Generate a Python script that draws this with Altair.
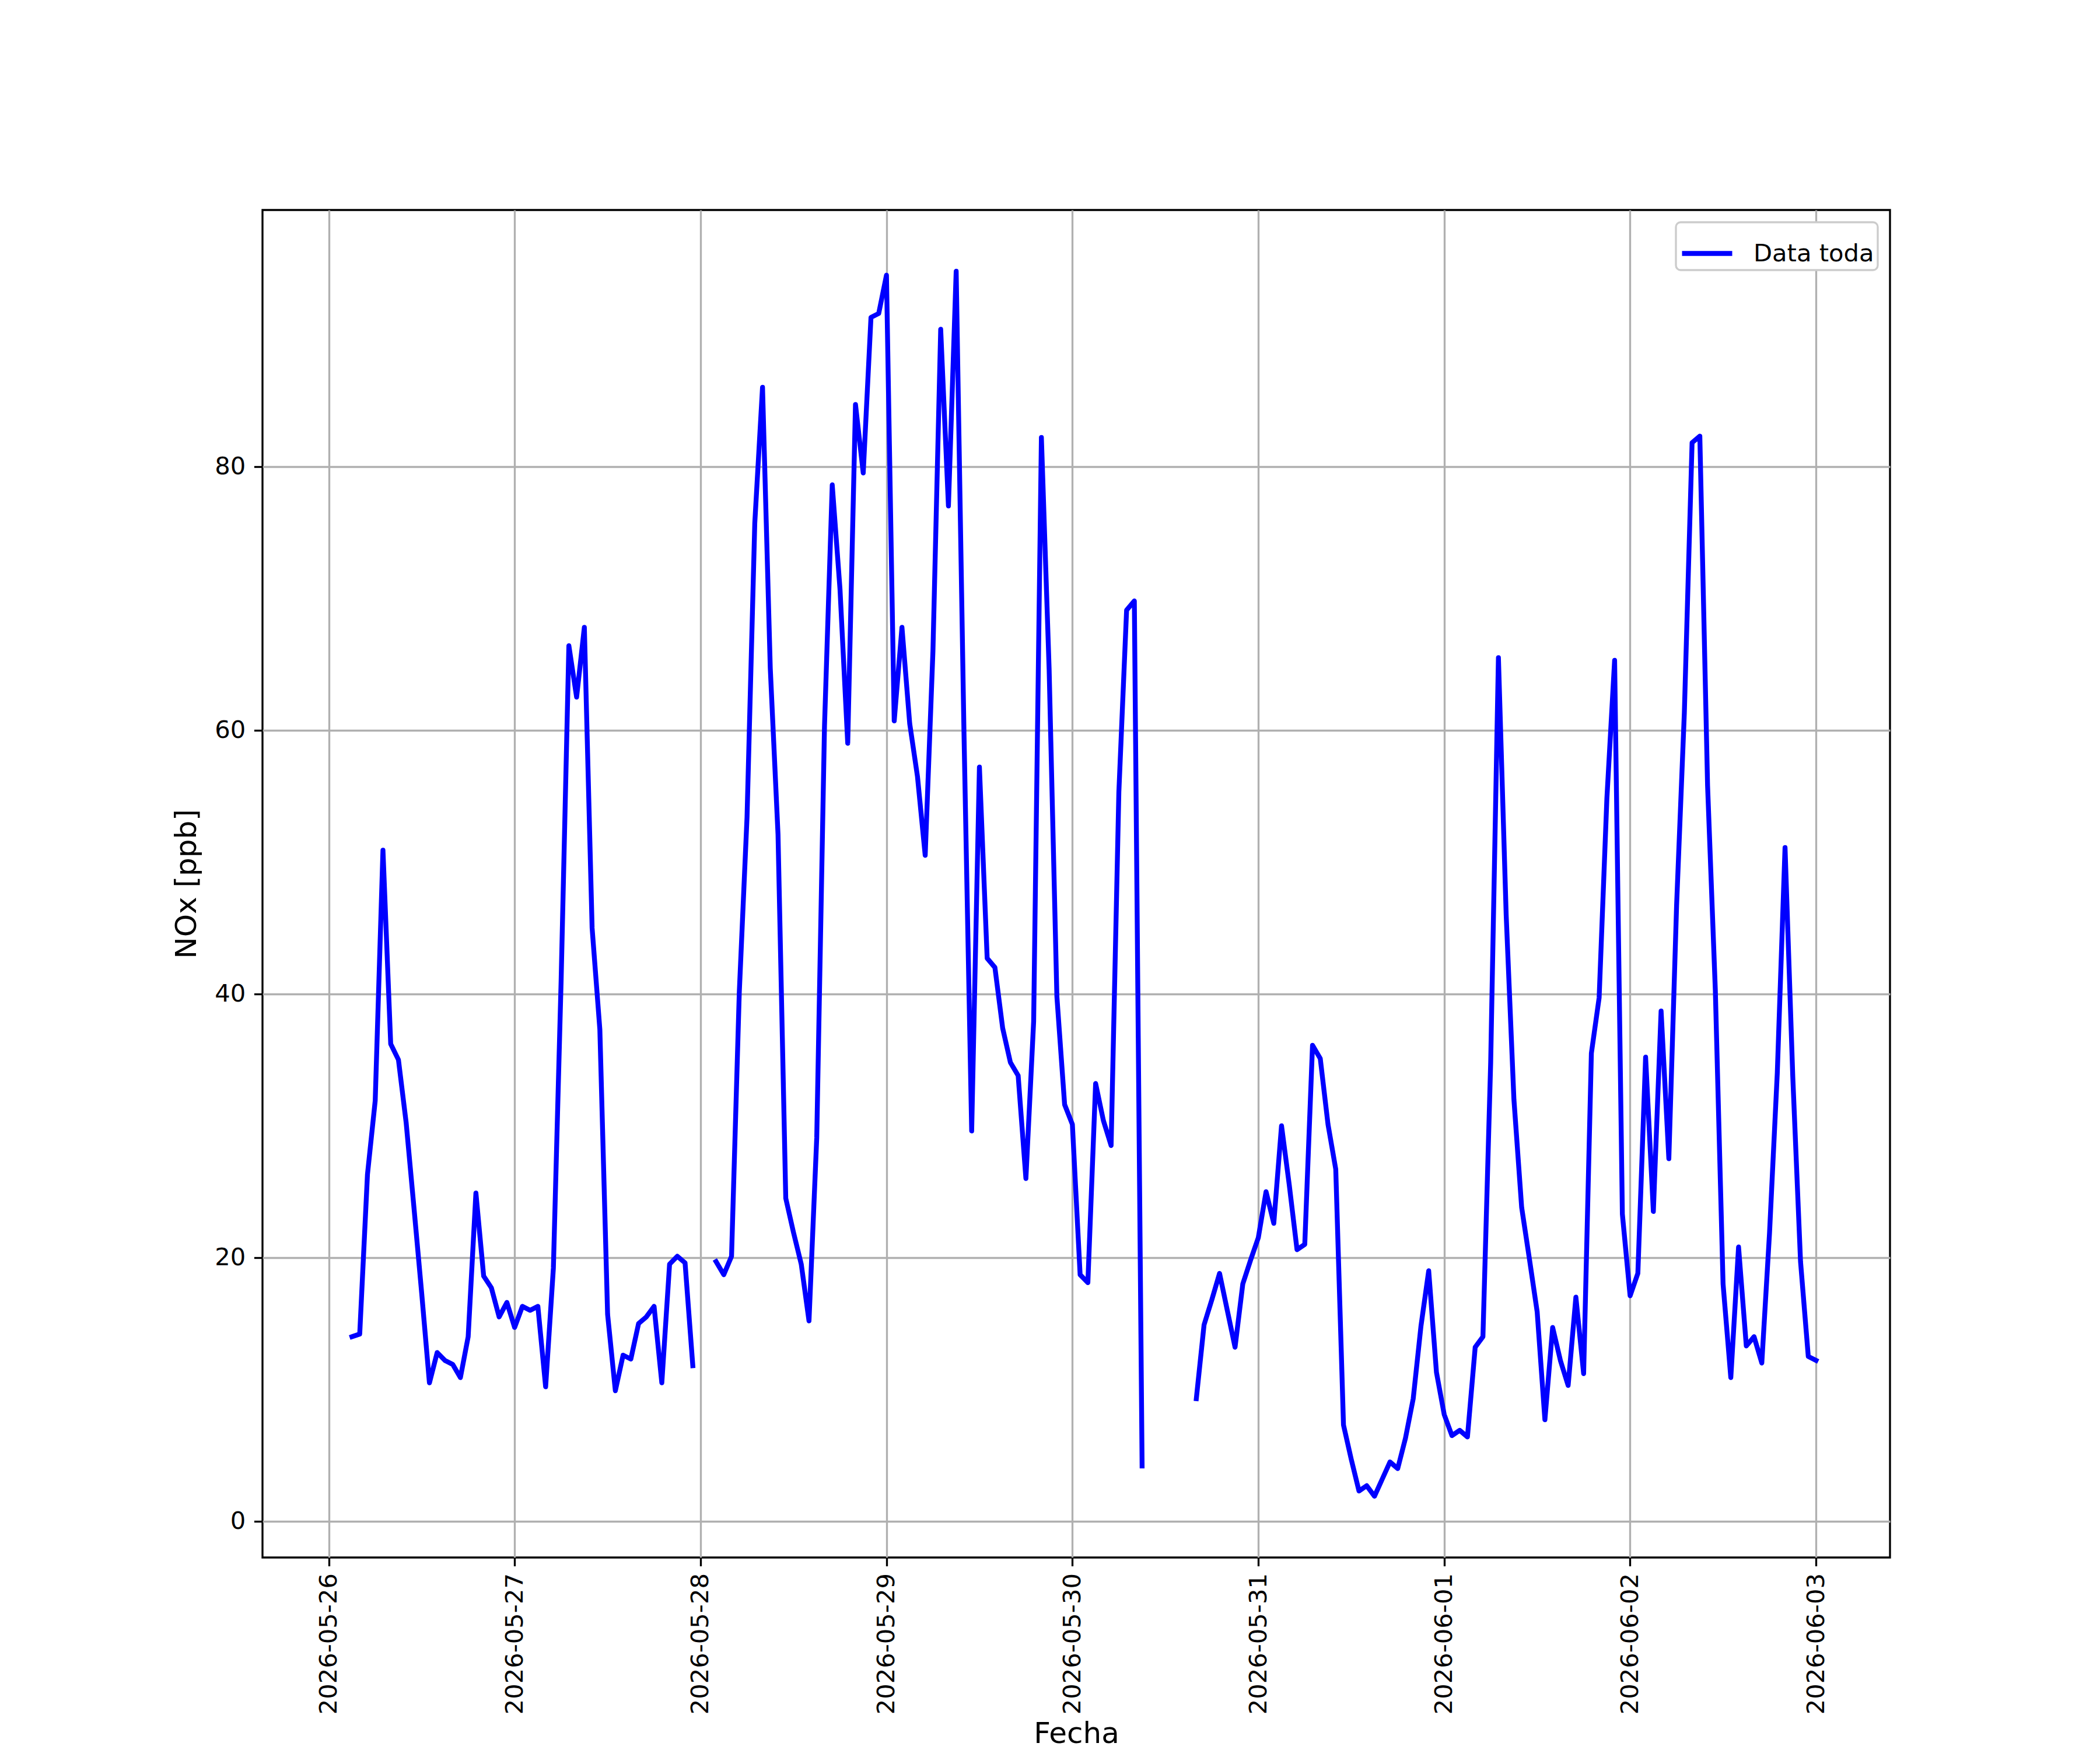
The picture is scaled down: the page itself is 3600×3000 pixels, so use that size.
import altair as alt
import pandas as pd

# ---- datos (lecturas horarias, None = sin dato) ----
inicio = "2026-05-26 03:00"
nox = [
    14.0, 14.2, 26.3, 31.9, 50.9, 36.2, 35.0, 30.2, 23.8, 17.3,
    10.5, 12.8, 12.2, 11.9, 10.9, 14.0, 24.9, 18.6, 17.7, 15.5,
    16.6, 14.7, 16.3, 16.0, 16.3, 10.2, 19.2, 41.0, 66.4, 62.5,
    67.8, 45.0, 37.3, 15.7, 9.9, 12.6, 12.3, 15.0, 15.5, 16.3,
    10.5, 19.5, 20.1, 19.6, 11.8, None, None, 19.7, 18.7, 20.1,
    40.1, 53.4, 75.7, 86.0, 64.7, 52.1, 24.5, 21.9, 19.5, 15.2,
    29.1, 60.3, 78.6, 70.7, 59.0, 84.7, 79.5, 91.3, 91.6, 94.5,
    60.7, 67.8, 60.5, 56.5, 50.5, 66.0, 90.4, 77.0, 94.8, 60.0,
    29.6, 57.2, 42.7, 42.0, 37.4, 34.8, 33.8, 26.0, 37.9, 82.2,
    64.6, 39.8, 31.6, 30.1, 18.7, 18.1, 33.2, 30.4, 28.5, 55.3,
    69.1, 69.8, 4.2, None, None, None, None, None, None, 9.3,
    14.9, 16.8, 18.8, 16.0, 13.2, 18.0, 19.8, 21.5, 25.0, 22.6,
    30.0, 25.5, 20.6, 21.0, 36.1, 35.1, 30.1, 26.7, 7.3, 4.7,
    2.3, 2.7, 1.9, 3.2, 4.5, 4.0, 6.3, 9.3, 14.8, 19.0,
    11.3, 8.1, 6.5, 6.9, 6.4, 13.2, 14.0, 34.8, 65.5, 46.0,
    32.0, 23.8, 19.9, 15.9, 7.7, 14.7, 12.2, 10.3, 17.0, 11.2,
    35.5, 39.7, 54.8, 65.3, 23.3, 17.1, 18.8, 35.2, 23.5, 38.7,
    27.5, 46.7, 61.3, 81.8, 82.3, 55.8, 40.3, 18.0, 10.9, 20.8,
    13.3, 14.0, 12.0, 21.9, 34.0, 51.1, 33.7, 19.7, 12.5, 12.2,
]
dias_ticks = [(2026, 5, 26), (2026, 5, 27), (2026, 5, 28), (2026, 5, 29),
              (2026, 5, 30), (2026, 5, 31), (2026, 6, 1), (2026, 6, 2),
              (2026, 6, 3)]
ticks_y = [0, 20, 40, 60, 80]
serie = "Data toda"

# ---- tabla ----
tiempos = pd.date_range(inicio, periods=len(nox), freq="h")
filas = []
tramo = 0
previo_nulo = False
for t, v in zip(tiempos, nox):
    if v is None:
        previo_nulo = True
        continue
    if previo_nulo:
        tramo += 1
        previo_nulo = False
    filas.append({"Fecha": t.strftime("%Y-%m-%dT%H:%M:%S"), "NOx": v,
                  "tramo": tramo, "serie": serie})
df = pd.DataFrame(filas)

PT = 300 / 72.0  # px por punto (figura 12x10 in a 300 dpi)
FS = 10 * PT
FT = 12 * PT
LW = 0.8 * PT
TK = 3.5 * PT

x_dom = [alt.DateTime(year=2026, month=5, date=25, hours=15, minutes=27),
         alt.DateTime(year=2026, month=6, date=3, hours=9, minutes=33)]
x_vals = [alt.DateTime(year=y, month=m, date=d) for (y, m, d) in dias_ticks]

chart = alt.Chart(df).mark_line(
    strokeWidth=2 * PT, strokeCap="square", strokeJoin="round"
).encode(
    x=alt.X("Fecha:T",
            scale=alt.Scale(domain=x_dom, nice=False),
            axis=alt.Axis(values=x_vals, format="%Y-%m-%d", labelAngle=270,
                          labelAlign="right", labelBaseline="middle",
                          labelPadding=12,
                          title="Fecha", titleBaseline="alphabetic",
                          titleY=317)),
    y=alt.Y("NOx:Q",
            scale=alt.Scale(domain=[-2.745, 99.445], nice=False, zero=False),
            axis=alt.Axis(values=ticks_y, title="NOx [ppb]", titlePadding=22)),
    color=alt.Color("serie:N", scale=alt.Scale(range=["#0000ff"]),
                    legend=alt.Legend(title=None)),
    detail="tramo:N",
).properties(
    width=2790, height=2310,
    autosize=alt.AutoSizeParams(type="none"),
    padding={"left": 442, "top": 352, "right": 352, "bottom": 330},
    background="white",
).configure_view(
    stroke="black", strokeWidth=LW, fill="white"
).configure_axis(
    domain=False,
    grid=True, gridColor="#b0b0b0", gridWidth=LW,
    ticks=True, tickSize=TK, tickWidth=LW, tickColor="black",
    labelFont="DejaVu Sans", labelFontSize=FS, labelColor="black",
    labelPadding=TK, labelOverlap=False, labelFlush=False, labelLimit=0,
    titleFont="DejaVu Sans", titleFontSize=FT, titleFontWeight="normal",
    titleColor="black", titleLimit=0,
).configure_legend(
    orient="top-right", offset=21, padding=6,
    strokeColor="#cccccc", strokeWidth=LW, cornerRadius=8, fillColor="white",
    labelFont="DejaVu Sans", labelFontSize=FS, labelColor="black",
    labelLimit=0,
    symbolType="stroke", symbolSize=86 * 86, symbolStrokeWidth=2 * PT,
    labelOffset=32,
)

chart.save("out.html", embed_options={"renderer": "svg", "actions": False})
